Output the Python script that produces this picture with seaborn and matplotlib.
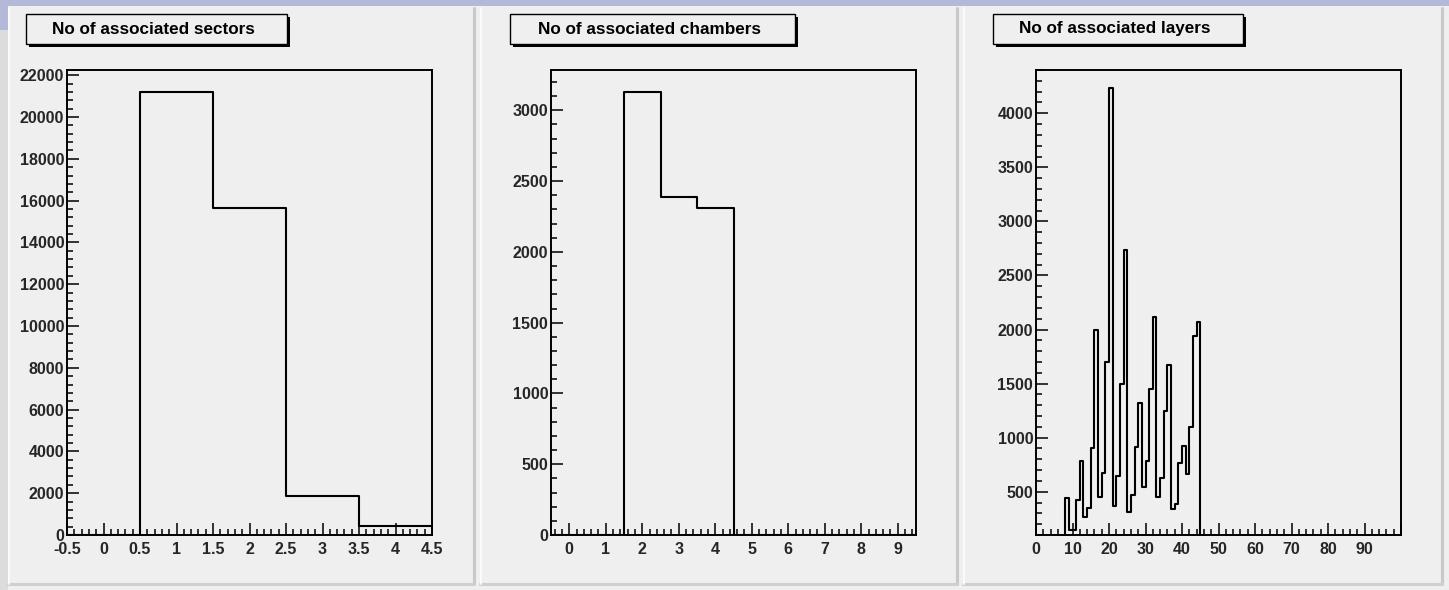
import numpy as np
import pandas as pd
import seaborn as sns
import matplotlib
matplotlib.use("Agg")
import matplotlib.pyplot as plt
from matplotlib.patches import Rectangle
from matplotlib.ticker import MultipleLocator, FuncFormatter

# ---------------- data ----------------
sector_edges = [-0.5, 0.5, 1.5, 2.5, 3.5, 4.5]
sector_counts = [0, 21200, 15650, 1880, 450]

chamber_edges = [-0.5, 0.5, 1.5, 2.5, 3.5, 4.5, 5.5, 6.5, 7.5, 8.5, 9.5]
chamber_counts = [0, 0, 3130, 2390, 2310, 0, 0, 0, 0, 0]

layer_range = (0, 100)
layer_first_bin = 8
layer_counts_nonzero = [440, 150, 150, 420, 780, 270, 350, 900, 2000, 450,
                        670, 1700, 4230, 370, 650, 1500, 2740, 310, 470, 910,
                        1320, 540, 780, 1450, 2120, 450, 630, 1250, 1670, 340,
                        390, 770, 920, 660, 1100, 1940, 2070]

titles = ["No of associated sectors", "No of associated chambers", "No of associated layers"]

# ---------------- styling ----------------
sns.set_theme(style="white")
plt.rcParams['font.family'] = ['Liberation Sans', 'DejaVu Sans']
plt.rcParams['axes.unicode_minus'] = False

W, H = 1449, 590
fig = plt.figure(figsize=(W / 100, H / 100), dpi=100)
PAD = '#efefef'
fig.patch.set_facecolor(PAD)

# background / pads in pixel coordinates
bg = fig.add_axes([0, 0, 1, 1], zorder=-5)
bg.set_xlim(0, W)
bg.set_ylim(H, 0)
bg.axis('off')
bg.add_patch(Rectangle((0, 0), W, 6, color='#b4b9da', lw=0))
bg.add_patch(Rectangle((0, 0), 8, 30, color='#b4b9da', lw=0))
bg.add_patch(Rectangle((0, 30), 8, H - 30, color='#dcdcdc', lw=0))
for x0, x1 in [(8, 474), (480, 957), (963, 1442)]:
    bg.add_patch(Rectangle((x0, 8), x1 - x0, H - 14, facecolor=PAD,
                           edgecolor='none'))
    bg.plot([x1, x1], [8, H - 6], color='#c9c9c9', lw=2.2)
    bg.plot([x0, x1], [H - 6, H - 6], color='#cfcfcf', lw=2.2)
    bg.plot([x0 + 1, x0 + 1], [8, H - 6], color='#fafafa', lw=1.5)

def px_axes(l, t, r, b):
    return fig.add_axes([l / W, 1 - b / H, (r - l) / W, (b - t) / H])

axes = [px_axes(67, 70, 432, 535), px_axes(551, 70, 916, 535), px_axes(1036, 70, 1401, 535)]

def fmt_g(v, pos):
    return ('%g' % v)

def style_axes(ax, xmaj, xmin, ymaj, ymin, xlim, ylim, hide_last_x=None):
    ax.set_facecolor(PAD)
    ax.set_xlim(*xlim)
    ax.set_ylim(*ylim)
    ax.xaxis.set_major_locator(MultipleLocator(xmaj))
    ax.xaxis.set_minor_locator(MultipleLocator(xmin))
    ax.yaxis.set_major_locator(MultipleLocator(ymaj))
    ax.yaxis.set_minor_locator(MultipleLocator(ymin))
    if hide_last_x is not None:
        ax.xaxis.set_major_formatter(FuncFormatter(
            lambda v, p: '' if abs(v - hide_last_x) < 1e-9 else '%g' % v))
    else:
        ax.xaxis.set_major_formatter(FuncFormatter(fmt_g))
    ax.yaxis.set_major_formatter(FuncFormatter(fmt_g))
    ax.tick_params(which='both', direction='in', left=True, bottom=True,
                   top=False, right=False, color='black', width=1.1)
    ax.tick_params(which='major', length=8.5, labelsize=11.5)
    ax.tick_params(axis='x', which='major', pad=5.0)
    ax.tick_params(axis='y', which='major', pad=2.0)
    ax.tick_params(which='minor', length=4.3)
    for lab in ax.get_xticklabels() + ax.get_yticklabels():
        lab.set_fontweight('bold')
    for s in ax.spines.values():
        s.set_color('black')
        s.set_linewidth(1.4)
        s.set_visible(True)
    ax.set_xlabel('')
    ax.set_ylabel('')

def hist(ax, edges, counts):
    edges = [float(e) for e in edges]
    centers = [0.5 * (a + b) for a, b in zip(edges[:-1], edges[1:])]
    df = pd.DataFrame({'x': centers, 'w': [float(c) for c in counts]})
    sns.histplot(data=df, x='x', weights='w', bins=edges, element='step',
                 fill=False, color='black', linewidth=1.5, ax=ax)

# panel 1
hist(axes[0], sector_edges, sector_counts)
style_axes(axes[0], 0.5, 0.1, 2000, 400, (-0.5, 4.5), (0, 22250))

# panel 2
hist(axes[1], chamber_edges, chamber_counts)
style_axes(axes[1], 1, 0.2, 500, 100, (-0.5, 9.5), (0, 3285))

# panel 3
layer_edges = list(range(layer_range[0], layer_range[1] + 1))
layer_counts = [0.0] * (len(layer_edges) - 1)
for i, v in enumerate(layer_counts_nonzero):
    layer_counts[layer_first_bin + i] = v
hist(axes[2], layer_edges, layer_counts)
style_axes(axes[2], 10, 2, 500, 100, (0, 100), (100, 4400), hide_last_x=100)

# title boxes
boxes = [(26, 14, 287, 44), (510, 14, 795, 44), (993, 14, 1243, 44)]
for (l, t, r, b), title in zip(boxes, titles):
    bg.add_patch(Rectangle((l + 3, t + 3), r - l, b - t, facecolor='black', edgecolor='none'))
    bg.add_patch(Rectangle((l, t), r - l, b - t, facecolor=PAD, edgecolor='black', lw=1.0))
    bg.text((l + r) / 2 - 3, (t + b) / 2, title, ha='center', va='center',
            fontsize=12.3, fontweight='bold', color='black')

fig.savefig('out.png', dpi=100, facecolor=fig.get_facecolor())
